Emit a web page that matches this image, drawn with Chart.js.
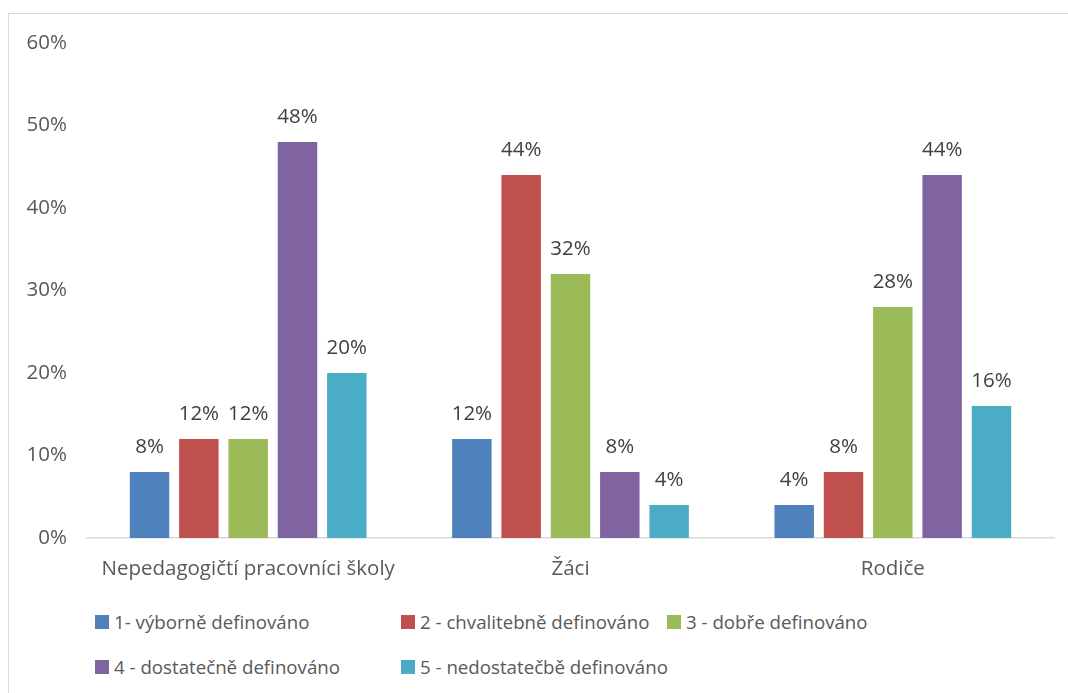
<!DOCTYPE html>
<html>
<head>
<meta charset="utf-8">
<script src="https://cdn.jsdelivr.net/npm/chart.js@4"></script>
<style>
  body { margin: 0; background: #fff; font-family: "Open Sans", sans-serif; }
  #frame { position: absolute; left: 8px; top: 13px; width: 1080px; height: 700px; border: 1px solid #d9d9d9; }
  #wrap { position: absolute; left: 0; top: 0; width: 1068px; height: 600px; }
  #legend { position: absolute; left: 95px; top: 608px; display: grid; grid-template-columns: 306px 266px 300px; row-gap: 18px; color: #595959; font-size: 18.7px; }
  #legend div { display: flex; align-items: center; height: 27px; white-space: nowrap; overflow: visible; }
  #legend span.box { width: 14px; height: 14px; margin-right: 5px; flex: 0 0 14px; }
</style>
</head>
<body>
<div id="frame"></div>
<div id="wrap"><canvas id="resultChart"></canvas></div>
<div id="legend"></div>
<script>
const categories = ['Nepedagogičtí pracovníci školy', 'Žáci', 'Rodiče'];
const seriesNames = ['1- výborně definováno', '2 - chvalitebně definováno', '3 - dobře definováno', '4 - dostatečně definováno', '5 - nedostatečbě definováno'];
const colors = ['#4F81BD', '#C0504D', '#9BBB59', '#8064A2', '#4BACC6'];
const s1 = [8, 12, 4];
const s2 = [12, 44, 8];
const s3 = [12, 32, 28];
const s4 = [48, 8, 44];
const s5 = [20, 4, 16];
const yTicks = [0, 10, 20, 30, 40, 50, 60];

const allSeries = [s1, s2, s3, s4, s5];
const fontSize = 20.5;

// labels above the bars
const barLabels = {
    id: 'barLabels',
    afterDatasetsDraw(chart) {
        const ctx = chart.ctx;
        ctx.save();
        ctx.font = fontSize + 'px "Open Sans"';
        ctx.fillStyle = '#404040';
        ctx.textAlign = 'center';
        ctx.textBaseline = 'alphabetic';
        chart.data.datasets.forEach((ds, i) => {
            chart.getDatasetMeta(i).data.forEach((bar, j) => {
                ctx.fillText(ds.data[j] + '%', bar.x, bar.y - 19);
            });
        });
        ctx.restore();
    }
};

const ctx = document.getElementById('resultChart');

new Chart(ctx, {
    type: 'bar',
    data: {
        labels: categories,
        datasets: allSeries.map((d, i) => ({
            label: seriesNames[i],
            data: d,
            backgroundColor: colors[i],
            categoryPercentage: 0.765,
            barPercentage: 0.8
        }))
    },
    options: {
        responsive: true,
        maintainAspectRatio: false,
        animation: false,
        layout: { padding: { left: 10, right: 14, top: 43, bottom: 0 } },
        plugins: {
            legend: { display: false },
            tooltip: { enabled: false }
        },
        scales: {
            y: {
                min: 0,
                max: 60,
                afterFit(scale) { scale.width = 77; },
                afterBuildTicks(scale) { scale.ticks = yTicks.map(v => ({ value: v })); },
                grid: { display: false, drawTicks: false },
                border: { display: false },
                ticks: {
                    padding: 20,
                    color: '#595959',
                    font: { family: 'Open Sans', size: fontSize },
                    callback: v => v + '%'
                }
            },
            x: {
                afterFit(scale) { scale.height = 62; },
                grid: { display: false, drawTicks: false },
                border: { display: true, color: '#d9d9d9', width: 1.5 },
                ticks: {
                    padding: 19,
                    color: '#595959',
                    font: { family: 'Open Sans', size: fontSize }
                }
            }
        }
    },
    plugins: [barLabels]
});

const legend = document.getElementById('legend');
seriesNames.forEach((name, i) => {
    const item = document.createElement('div');
    item.innerHTML = '<span class="box" style="background:' + colors[i] + '"></span>' + name;
    legend.appendChild(item);
});
</script>
</body>
</html>
